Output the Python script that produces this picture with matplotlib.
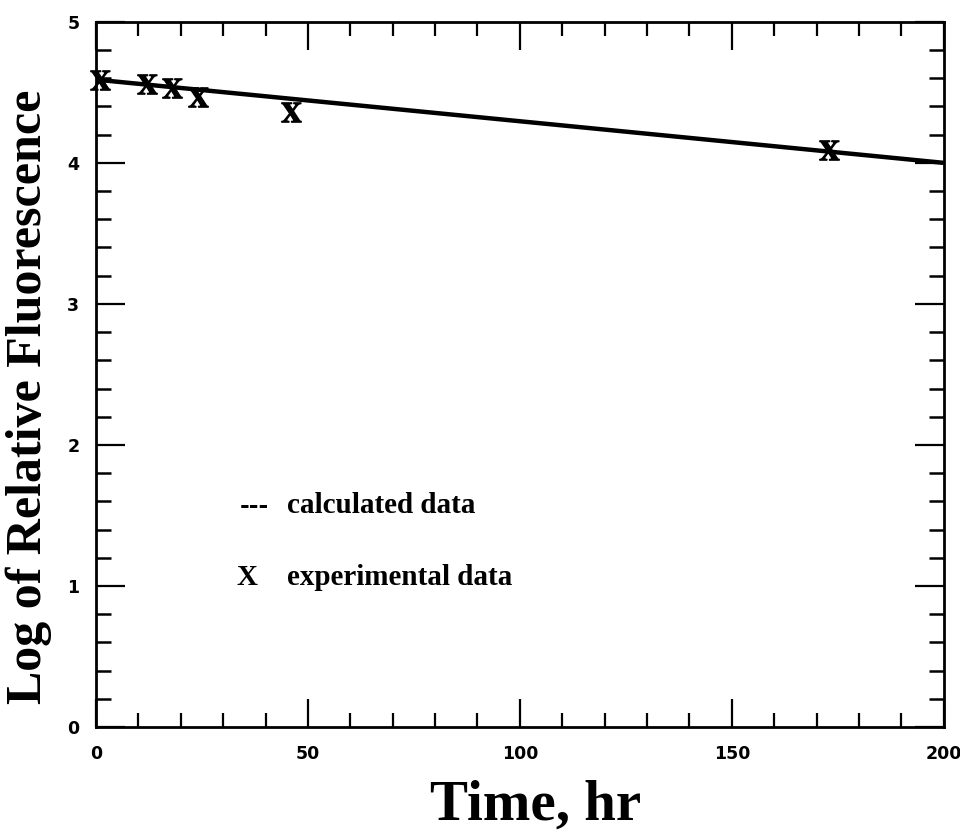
import matplotlib
matplotlib.use("Agg")
import matplotlib.pyplot as plt
from matplotlib.ticker import MultipleLocator

plt.rcParams['mathtext.fontset'] = 'stix'

# data
exp_time = [1, 12, 18, 24, 46, 173]
exp_logf = [4.59, 4.56, 4.53, 4.47, 4.36, 4.09]
calc_time = [0, 200]
calc_logf = [4.59, 4.00]
x_ticks = [0, 50, 100, 150, 200]
y_ticks = [0, 1, 2, 3, 4, 5]

fig = plt.figure(figsize=(9.6, 8.39), dpi=100)
ax = fig.add_axes([0.100, 0.1335, 0.883, 0.8405])

ax.plot(calc_time, calc_logf, color='black', lw=3.2, solid_capstyle='butt', zorder=2)
ax.plot(exp_time, exp_logf, linestyle='none', marker=r'$\mathbf{X}$', color='black',
        markersize=14, zorder=3, clip_on=False)

ax.set_xlim(0, 200)
ax.set_ylim(0, 5)
ax.set_xticks(x_ticks)
ax.set_yticks(y_ticks)
ax.xaxis.set_minor_locator(MultipleLocator(10))
ax.yaxis.set_minor_locator(MultipleLocator(0.2))

ax.tick_params(axis='both', which='both', direction='in', top=True, right=True, color='black')
ax.tick_params(axis='x', which='major', length=20, width=1.6, pad=13)
ax.tick_params(axis='x', which='minor', length=10, width=1.6)
ax.tick_params(axis='y', which='major', length=21, width=1.6, pad=12)
ax.tick_params(axis='y', which='minor', length=11, width=1.8)

for lab in ax.get_xticklabels() + ax.get_yticklabels():
    lab.set_fontfamily('DejaVu Sans')
    lab.set_fontweight('bold')
    lab.set_fontsize(12.5)

for sp in ax.spines.values():
    sp.set_linewidth(2.0)

ax.set_ylabel('Log of Relative Fluorescence', family='Liberation Serif', fontweight='bold',
              fontsize=36)
ax.yaxis.set_label_coords(-0.052, 0.468)
ax.set_xlabel('Time, hr', family='Liberation Serif', fontweight='bold', fontsize=41)
ax.xaxis.set_label_coords(0.519, -0.075)

ax.text(0.169, 0.314, '---', transform=ax.transAxes, family='DejaVu Serif',
        fontweight='bold', fontsize=17, va='center', ha='left')
ax.text(0.225, 0.314, 'calculated data', transform=ax.transAxes, family='Liberation Serif',
        fontweight='bold', fontsize=21, va='center', ha='left')
ax.text(0.166, 0.212, 'X', transform=ax.transAxes, family='Liberation Serif',
        fontweight='bold', fontsize=21, va='center', ha='left')
ax.text(0.225, 0.212, 'experimental data', transform=ax.transAxes, family='Liberation Serif',
        fontweight='bold', fontsize=21, va='center', ha='left')

fig.savefig('out.png', dpi=100)
